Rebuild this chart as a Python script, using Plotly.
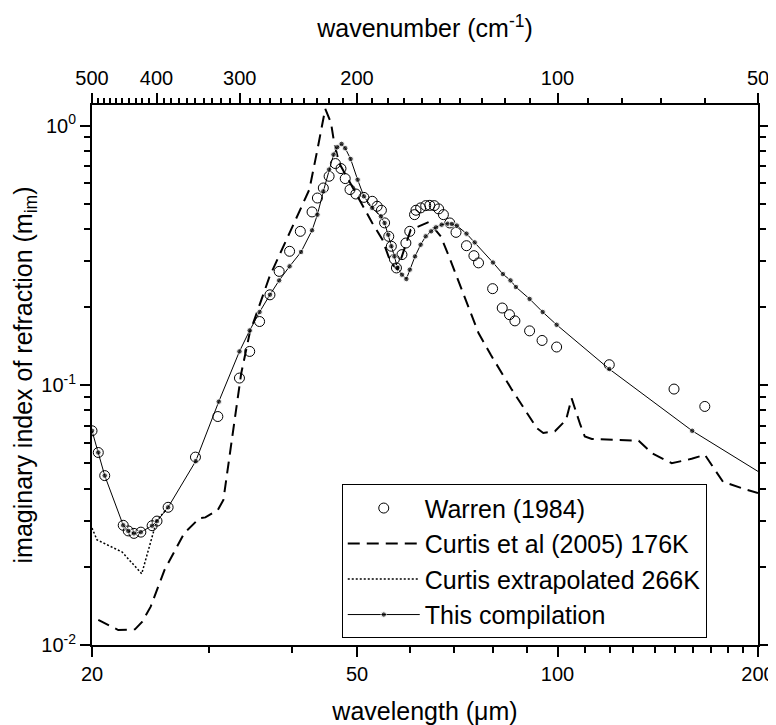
import numpy as np
import plotly.graph_objects as go

# ---------------- data (wavelength in micrometres, imaginary index) ----------------
warren_wl = [20.0, 20.44, 20.9, 22.28, 22.67, 23.12, 23.68, 24.62, 25.04, 26.02, 28.6, 30.9,
             33.3, 34.5, 35.7, 37.0, 38.2, 39.6, 41.1, 42.8, 43.6, 44.5, 45.4, 46.4, 47.3,
             48.0, 48.8, 49.8, 51.2, 52.7, 53.6, 54.4, 55.0, 55.8, 56.3, 56.9, 57.3, 58.4,
             59.2, 60.0, 61.0, 61.3, 62.3, 63.4, 64.3, 65.3, 66.3, 67.4, 68.9, 70.4, 73.0,
             74.9, 76.1, 79.9, 82.6, 84.7, 86.3, 90.8, 94.8, 99.7, 119.6, 149.6, 166.4]
warren_k = [0.0668, 0.0551, 0.0449, 0.0289, 0.0275, 0.0269, 0.0272, 0.0288, 0.0300, 0.0339,
            0.0529, 0.0758, 0.1066, 0.135, 0.176, 0.223, 0.2745, 0.328, 0.3915, 0.465, 0.526,
            0.575, 0.638, 0.714, 0.683, 0.625, 0.567, 0.545, 0.529, 0.511, 0.489, 0.472, 0.422,
            0.3745, 0.343, 0.306, 0.283, 0.3185, 0.353, 0.3915, 0.454, 0.472, 0.482, 0.4917,
            0.493, 0.4917, 0.4777, 0.454, 0.4217, 0.388, 0.3447, 0.3155, 0.296, 0.2355, 0.1984,
            0.187, 0.177, 0.162, 0.1488, 0.1404, 0.120, 0.0967, 0.0829]

curtis_wl = [20.44, 21.9, 23.2, 23.8, 24.5, 25.7, 27.5, 29.0, 29.6, 30.9, 31.5, 32.3, 33.0,
             33.5, 34.5, 36.96, 39.6, 42.4, 43.6, 44.8, 45.7, 46.2, 47.0, 50.4, 52.7, 54.6,
             56.2, 57.5, 60.2, 64.1, 66.8, 68.7, 71.1, 74.1, 76.1, 79.4, 85.4, 93.1, 95.2,
             99.1, 103.0, 105.0, 108.2, 109.9, 112.6, 132.4, 138.6, 148.4, 159.0, 166.4,
             177.2, 191.0, 200.0]
curtis_k = [0.0125, 0.01142, 0.01149, 0.0123, 0.01405, 0.01945, 0.0269, 0.0308, 0.0310,
            0.0331, 0.0362, 0.0564, 0.0829, 0.111, 0.159, 0.2626, 0.386, 0.567, 0.808, 1.16,
            1.024, 0.858, 0.718, 0.519, 0.4217, 0.3636, 0.2958, 0.2787, 0.397, 0.4256, 0.3745,
            0.3135, 0.2476, 0.1897, 0.159, 0.131, 0.0962, 0.0684, 0.0655, 0.0665, 0.0736,
            0.089, 0.0705, 0.0635, 0.0621, 0.0611, 0.0548, 0.0501, 0.0521, 0.054, 0.0425,
            0.0398, 0.0385]

curtis_ext_wl = [20.0, 20.35, 22.2, 23.75, 25.0, 26.02]
curtis_ext_k = [0.0282, 0.0254, 0.0228, 0.0188, 0.0300, 0.0339]

comp_wl = [20.0, 20.44, 20.9, 22.28, 22.67, 23.12, 23.68, 24.62, 25.04, 26.02, 28.62, 31.0,
           33.3, 34.5, 35.7, 37.0, 38.2, 39.6, 41.2, 42.8, 43.6, 44.5, 45.4, 46.1, 46.7,
           47.4, 48.0, 48.9, 50.1, 51.2, 52.7, 54.3, 55.0, 55.7, 56.3, 56.9, 57.5, 58.4,
           59.3, 60.0, 61.1, 62.3, 63.4, 64.6, 65.7, 67.0, 68.4, 69.4, 70.6, 73.0, 75.1,
           80.0, 82.8, 85.0, 86.6, 90.8, 95.0, 99.7, 119.6, 159.3, 200.0]
comp_k = [0.0668, 0.0551, 0.0449, 0.0289, 0.0275, 0.0269, 0.0272, 0.0288, 0.0300, 0.0339,
          0.0510, 0.0865, 0.135, 0.1626, 0.1915, 0.2232, 0.2534, 0.287, 0.326, 0.395, 0.454,
          0.558, 0.677, 0.773, 0.825, 0.850, 0.818, 0.744, 0.619, 0.534, 0.482, 0.447, 0.4217,
          0.380, 0.343, 0.3135, 0.283, 0.2666, 0.2566, 0.2787, 0.3135, 0.3477, 0.3745, 0.3915,
          0.4056, 0.4154, 0.419, 0.418, 0.412, 0.3836, 0.355, 0.297, 0.268, 0.2534, 0.239,
          0.215, 0.1915, 0.171, 0.1155, 0.0668, 0.0466]

# axis ticks
wl_range = [20, 200]
k_range = [0.01, 1.2]
x_major = [20, 50, 100, 200]
x_minor = [30, 40, 60, 70, 80, 90] + list(range(110, 200, 10))
wn_major = [500, 400, 300, 200, 100, 50]
wn_minor = [w for w in range(60, 500, 10) if w not in wn_major]
y_major = [0.01, 0.1, 1]
y_major_text = ["10<sup>-2</sup>", "10<sup>-1</sup>", "10<sup>0</sup>"]
y_minor = [m * 10.0 ** e for e in (-2, -1) for m in range(2, 10)]

FONT = "Liberation Sans, Arial, sans-serif"

fig = go.Figure()

fig.add_trace(go.Scatter(
    x=warren_wl, y=warren_k, mode="markers", name="Warren (1984)",
    marker=dict(symbol="circle-open", size=10, color="black", line=dict(width=1, color="black")),
))
fig.add_trace(go.Scatter(
    x=curtis_wl, y=curtis_k, mode="lines", name="Curtis et al (2005) 176K",
    line=dict(color="black", width=2, dash="12px,7px"),
))
fig.add_trace(go.Scatter(
    x=curtis_ext_wl, y=curtis_ext_k, mode="lines", name="Curtis extrapolated 266K",
    line=dict(color="black", width=1.5, dash="2px,2px"),
))
comp_sizes = [5.5] * (len(comp_wl) - 1) + [0]
fig.add_trace(go.Scatter(
    x=comp_wl, y=comp_k, mode="lines+markers", name="This compilation",
    line=dict(color="black", width=1),
    marker=dict(symbol="circle", size=comp_sizes, color="black"),
))
# helper (invisible) trace so the top wavenumber axis is drawn
fig.add_trace(go.Scatter(
    x=wl_range, y=k_range, xaxis="x2", mode="lines", opacity=0,
    showlegend=False, hoverinfo="skip",
))

axis_common = dict(
    showgrid=False, zeroline=False, showline=True, linecolor="black", linewidth=2,
    ticks="outside", tickcolor="black", tickwidth=2, ticklen=10, automargin=False,
    tickfont=dict(family=FONT, size=20, color="black"),
)

# the page body adds an 8 px margin, so the figure is sized to fit the window
fig.update_layout(
    width=768, height=717,
    margin=dict(l=84, r=18, t=97, b=80, autoexpand=False),
    paper_bgcolor="white", plot_bgcolor="white",
    font=dict(family=FONT, color="black"),
    xaxis=dict(
        type="log", range=[np.log10(wl_range[0]), np.log10(wl_range[1])],
        tickmode="array", tickvals=x_major, ticktext=[str(v) for v in x_major],
        mirror=True,
        minor=dict(tickmode="array", tickvals=x_minor, ticks="outside", ticklen=6,
                   tickwidth=1.5, tickcolor="black", showgrid=False),
        title=dict(text="wavelength (μm)", font=dict(family=FONT, size=25), standoff=21),
        **axis_common,
    ),
    xaxis2=dict(
        type="log", overlaying="x", side="top",
        range=[np.log10(wl_range[0]), np.log10(wl_range[1])],
        tickmode="array", tickvals=[1e4 / w for w in wn_major], ticktext=[str(w) for w in wn_major],
        minor=dict(tickmode="array", tickvals=[1e4 / w for w in wn_minor], ticks="outside",
                   ticklen=5, tickwidth=1.5, tickcolor="black", showgrid=False),
        title=dict(text="wavenumber (cm<sup>-1</sup>)", font=dict(family=FONT, size=25), standoff=22),
        **axis_common,
    ),
    yaxis=dict(
        type="log", range=[np.log10(k_range[0]), np.log10(k_range[1])],
        tickmode="array", tickvals=y_major, ticktext=y_major_text,
        mirror="ticks",
        minor=dict(tickmode="array", tickvals=y_minor, ticks="outside", ticklen=6,
                   tickwidth=1.5, tickcolor="black", showgrid=False),
        title=dict(text="imaginary index of refraction (m<sub>im</sub>)",
                   font=dict(family=FONT, size=25), standoff=2),
        **axis_common,
    ),
    legend=dict(
        x=0.375, y=0.155, xanchor="left", yanchor="middle",
        bgcolor="white", bordercolor="black", borderwidth=1,
        font=dict(family=FONT, size=25, color="black"),
        itemwidth=72, tracegroupgap=0,
    ),
    showlegend=True,
)

fig.write_html("out.html")
